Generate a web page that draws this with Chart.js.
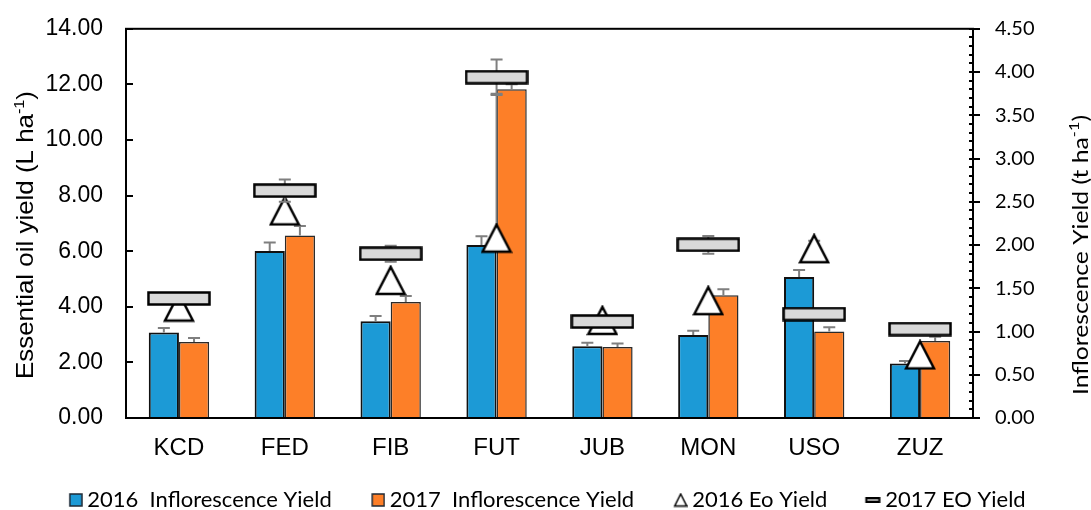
<!DOCTYPE html>
<html>
<head>
<meta charset="utf-8">
<script src="https://cdn.jsdelivr.net/npm/chart.js@4.4.0/dist/chart.umd.min.js"></script>
<style>
  html, body { margin: 0; padding: 0; background: #fff; }
</style>
</head>
<body>
<canvas id="rendimiento" width="1091" height="510"></canvas>
<script>
// datos
var categorias = ['KCD', 'FED', 'FIB', 'FUT', 'JUB', 'MON', 'USO', 'ZUZ'];

// rendimiento de inflorescencia (t ha-1), eje derecho
var inflo2016 = [0.99, 1.93, 1.12, 2.00, 0.83, 0.96, 1.63, 0.63];
var inflo2016Err = [0.05, 0.10, 0.06, 0.10, 0.04, 0.05, 0.08, 0.03];
var inflo2017 = [0.88, 2.11, 1.34, 3.80, 0.82, 1.42, 1.00, 0.89];
var inflo2017Err = [0.045, 0.11, 0.07, 0.06, 0.04, 0.07, 0.05, 0.05];

// rendimiento de aceite esencial (L ha-1), eje izquierdo
var eo2016 = [3.99, 7.45, 4.95, 6.47, 3.51, 4.22, 6.09, 2.27];
var eo2016Err = [0, 0, 0, 5.19, 0, 0, 0.29, 0];
var eo2017 = [4.30, 8.18, 5.91, 12.26, 3.47, 6.23, 3.74, 3.20];
var eo2017Err = [0, 0.40, 0.29, 0.64, 0, 0.32, 0, 0];

var ticksIzq = [0, 2, 4, 6, 8, 10, 12, 14];
var ticksDer = [0, 0.5, 1, 1.5, 2, 2.5, 3, 3.5, 4, 4.5];

var azul = '#1c9ad6';
var naranja = '#fd7f28';

/* marcadores */
function lienzo(w, h) {
    var c = document.createElement('canvas');
    c.width = w; c.height = h;
    return c;
}

var triangulo = lienzo(32, 31);
(function(){
    var g = triangulo.getContext('2d');
    g.beginPath();
    g.moveTo(16, 2); g.lineTo(30, 29); g.lineTo(2, 29); g.closePath();
    g.fillStyle = '#fff'; g.fill();
    g.lineWidth = 2.5; g.strokeStyle = '#000'; g.stroke();
})();

var rectangulo = lienzo(64, 15);
(function(){
    var g = rectangulo.getContext('2d');
    g.fillStyle = '#d9d9d9'; g.fillRect(1.5, 1.5, 61, 12);
    g.lineWidth = 2.5; g.strokeStyle = '#000'; g.strokeRect(1.5, 1.5, 61, 12);
})();

/* iconos de la leyenda: lienzo ancho con el simbolo pegado a la derecha */
function cuadro(color) {
    var c = lienzo(40, 14);
    var g = c.getContext('2d');
    g.fillStyle = color; g.fillRect(27, 1, 12, 12);
    g.lineWidth = 1.5; g.strokeStyle = '#1e2a36'; g.strokeRect(27, 1, 12, 12);
    return c;
}
var iconoTri = lienzo(40, 15);
(function(){
    var g = iconoTri.getContext('2d');
    g.beginPath();
    g.moveTo(33, 1.5); g.lineTo(39, 13.5); g.lineTo(27, 13.5); g.closePath();
    g.fillStyle = '#fff'; g.fill();
    g.lineWidth = 1.5; g.strokeStyle = '#000'; g.stroke();
})();
var iconoRaya = lienzo(40, 8);
(function(){
    var g = iconoRaya.getContext('2d');
    g.fillStyle = '#9a9a9a'; g.fillRect(25.5, 2, 13, 4);
    g.lineWidth = 2; g.strokeStyle = '#000'; g.strokeRect(25.5, 2, 13, 4);
})();
var iconos = [cuadro(azul), cuadro(naranja), iconoTri, iconoRaya];

/* barras de error */
function dibujarErrores(chart, meta, ds) {
    var ctx = chart.ctx;
    var escala = chart.scales[meta.yAxisID];
    ctx.save();
    ctx.strokeStyle = '#7f7f7f';
    ctx.lineWidth = 2;
    meta.data.forEach(function(el, i) {
        var e = ds.errores[i];
        if (!e) return;
        var v = ds.data[i];
        var arriba = escala.getPixelForValue(v + e);
        var abajo = ds.soloArriba ? el.y : escala.getPixelForValue(v - e);
        ctx.beginPath();
        ctx.moveTo(el.x, abajo); ctx.lineTo(el.x, arriba);
        ctx.moveTo(el.x - 6, arriba); ctx.lineTo(el.x + 6, arriba);
        if (!ds.soloArriba) { ctx.moveTo(el.x - 6, abajo); ctx.lineTo(el.x + 6, abajo); }
        ctx.stroke();
    });
    ctx.restore();
}

var erroresPlugin = {
    id: 'errores',
    beforeDatasetDraw: function(chart, args) {
        var ds = chart.data.datasets[args.index];
        if (ds.type === 'line') dibujarErrores(chart, args.meta, ds);
    },
    afterDatasetDraw: function(chart, args) {
        var ds = chart.data.datasets[args.index];
        if (ds.type === 'bar') dibujarErrores(chart, args.meta, ds);
    }
};

/* titulo con superindice, girado y estirado a un largo dado */
function tituloGirado(ctx, x, yc, largo, partes, fuente, fuenteSup) {
    ctx.save();
    ctx.font = fuente;
    var w1 = ctx.measureText(partes[0]).width;
    var w3 = ctx.measureText(partes[2]).width;
    ctx.font = fuenteSup;
    var w2 = ctx.measureText(partes[1]).width;
    var total = w1 + w2 + w3;
    ctx.translate(x, yc);
    ctx.rotate(-Math.PI / 2);
    ctx.scale(largo / total, 1);
    ctx.fillStyle = '#000';
    ctx.textBaseline = 'alphabetic';
    ctx.textAlign = 'left';
    ctx.font = fuente;
    ctx.fillText(partes[0], -total / 2, 0);
    ctx.font = fuenteSup;
    ctx.fillText(partes[1], -total / 2 + w1, -9);
    ctx.font = fuente;
    ctx.fillText(partes[2], -total / 2 + w1 + w2, 0);
    ctx.restore();
}

var ejesPlugin = {
    id: 'ejes',
    afterDraw: function(chart) {
        var ctx = chart.ctx, a = chart.chartArea;
        var y = chart.scales.y, y1 = chart.scales.y1;
        ctx.save();
        ctx.strokeStyle = '#000';
        ctx.lineWidth = 2;
        ctx.strokeRect(a.left, a.top, a.right - a.left, a.bottom - a.top);
        ctx.beginPath();
        ticksIzq.forEach(function(t) {
            var p = Math.round(y.getPixelForValue(t));
            ctx.moveTo(a.left, p); ctx.lineTo(a.left + 7, p);
        });
        ticksDer.forEach(function(t) {
            var p = Math.round(y1.getPixelForValue(t));
            ctx.moveTo(a.right - 4, p); ctx.lineTo(a.right + 7, p);
        });
        for (var i = 0; i <= 45; i++) {
            var p = Math.round(y1.getPixelForValue(i / 10));
            ctx.moveTo(a.right - 4, p); ctx.lineTo(a.right, p);
        }
        ctx.stroke();
        ctx.restore();

        tituloGirado(ctx, 33, 235, 288, ['Essential oil yield (L ha', '-1', ')'],
            '24px "Liberation Sans", Arial, sans-serif', '15px "Liberation Sans", Arial, sans-serif');
        tituloGirado(ctx, 1088, 255, 280, ['Inflorescence Yield (t ha', '-1', ')'],
            '21px Lato, sans-serif', '14px Lato, sans-serif');
    }
};

var ctxRend = document.getElementById('rendimiento');

var rend = new Chart(ctxRend, {
    type: 'bar',
    data: {
        labels: categorias,
        datasets: [
            {
                type: 'bar',
                label: '2016  Inflorescence Yield',
                data: inflo2016,
                errores: inflo2016Err,
                soloArriba: true,
                yAxisID: 'y1',
                backgroundColor: azul,
                borderColor: '#111',
                borderWidth: 2,
                order: 2
            },
            {
                type: 'bar',
                label: '2017  Inflorescence Yield',
                data: inflo2017,
                errores: inflo2017Err,
                soloArriba: true,
                yAxisID: 'y1',
                backgroundColor: naranja,
                borderColor: '#2a2a2a',
                borderWidth: 1.5,
                order: 3
            },
            {
                type: 'line',
                label: '2016 Eo Yield',
                data: eo2016,
                errores: eo2016Err,
                soloArriba: true,
                yAxisID: 'y',
                showLine: false,
                pointStyle: triangulo,
                pointRadius: 10,
                order: 1
            },
            {
                type: 'line',
                label: '2017 EO Yield',
                data: eo2017,
                errores: eo2017Err,
                soloArriba: false,
                yAxisID: 'y',
                showLine: false,
                pointStyle: rectangulo,
                pointRadius: 10,
                order: 0
            }
        ]
    },
    options: {
        responsive: false,
        animation: false,
        events: [],
        layout: { padding: { top: 27, bottom: -11, left: 0, right: 16 } },
        datasets: { bar: { categoryPercentage: 0.57, barPercentage: 1 } },
        scales: {
            x: {
                grid: { display: false },
                border: { display: false },
                ticks: { color: '#000', padding: 8, font: { family: '"Liberation Sans", Arial, sans-serif', size: 24 } },
                afterFit: function(s) { s.height = 51; }
            },
            y: {
                position: 'left',
                min: 0, max: 14,
                grid: { display: false },
                border: { display: false },
                afterBuildTicks: function(s) { s.ticks = ticksIzq.map(function(v){ return { value: v }; }); },
                ticks: {
                    color: '#000', padding: 15,
                    font: { family: '"Liberation Sans", Arial, sans-serif', size: 23 },
                    callback: function(v) { return Number(v).toFixed(2); }
                },
                afterFit: function(s) { s.width = 126; }
            },
            y1: {
                position: 'right',
                min: 0, max: 4.5,
                grid: { display: false },
                border: { display: false },
                afterBuildTicks: function(s) { s.ticks = ticksDer.map(function(v){ return { value: v }; }); },
                ticks: {
                    color: '#000', padding: 14,
                    font: { family: 'Lato, sans-serif', size: 20 },
                    callback: function(v) { return Number(v).toFixed(2); }
                },
                afterFit: function(s) { s.width = 102; }
            }
        },
        plugins: {
            tooltip: { enabled: false },
            legend: {
                position: 'bottom',
                labels: {
                    usePointStyle: true,
                    pointStyleWidth: 27,
                    padding: 20,
                    color: '#000',
                    font: { family: 'Lato, sans-serif', size: 22 },
                    generateLabels: function(chart) {
                        return chart.data.datasets.map(function(ds, i) {
                            return {
                                text: ds.label,
                                pointStyle: iconos[i],
                                fillStyle: 'rgba(0,0,0,0)',
                                strokeStyle: 'rgba(0,0,0,0)',
                                lineWidth: 0,
                                fontColor: '#000',
                                hidden: false,
                                datasetIndex: i
                            };
                        });
                    }
                }
            }
        }
    },
    plugins: [erroresPlugin, ejesPlugin]
});
</script>
</body>
</html>
